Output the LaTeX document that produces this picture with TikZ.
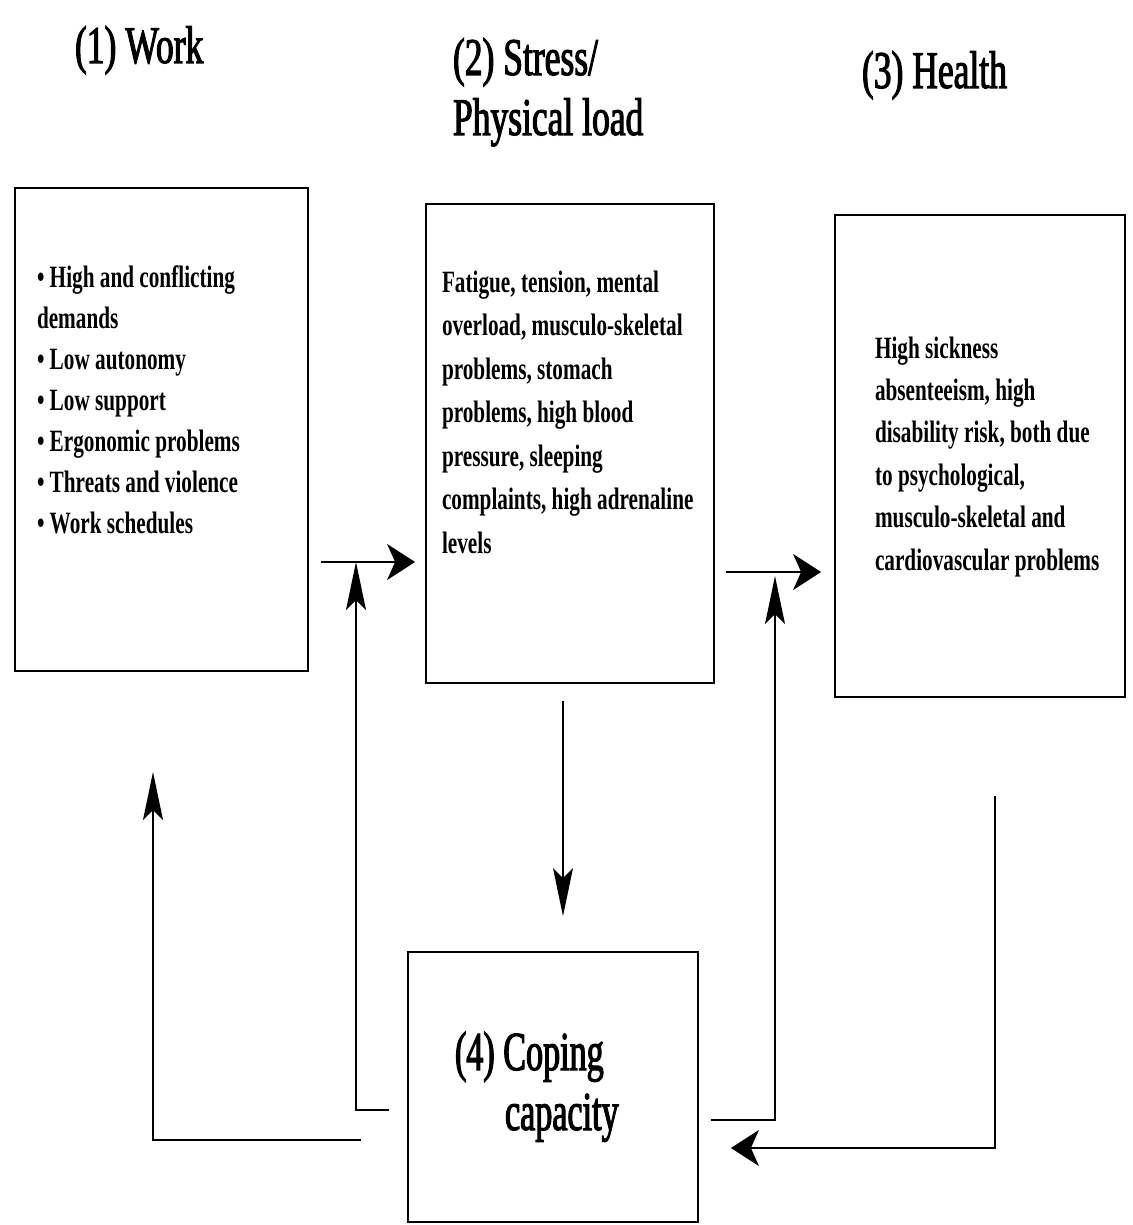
\documentclass[tikz,border=0pt]{standalone}
\usepackage{fontspec}
\setmainfont{Liberation Serif}
\newfontfamily\headfont[FakeStretch=0.67,FakeBold=2]{Liberation Serif}
\newfontfamily\bodyfont[FakeStretch=0.685]{Liberation Serif Bold}
\newfontfamily\copefont[FakeStretch=0.62,FakeBold=2]{Liberation Serif}
\usetikzlibrary{arrows.meta}
\begin{document}
\begin{tikzpicture}[x=1pt,y=-1pt,
  box/.style={draw, line width=1.8pt, inner sep=0pt},
  txt/.style={anchor=base west, inner sep=0pt, outer sep=0pt},
  headtxt/.style={txt, font=\headfont\fontsize{53}{60}\selectfont},
  bodytxt/.style={txt, font=\bodyfont\fontsize{31}{41}\selectfont},
  conn/.style={line width=1.5pt},
  harrow/.style={conn, -{Stealth[length=28pt,width=36pt,inset=8pt]}},
  varrow/.style={conn, -{Stealth[length=48pt,width=20pt,inset=10pt]}},
]
\useasboundingbox (0,0) rectangle (1132,1225);

% headings
\node[headtxt] (h1) at (75,63) {(1) Work};
\node[headtxt] (h2) at (453,75) {\vtop{\hbox{(2) Stress/}\hbox{Physical load}}};
\node[headtxt] (h3) at (862,88) {(3) Health};

% boxes
\node[box, minimum width=293, minimum height=483] (b1) at (161.5,429.5) {};
\node[box, minimum width=288, minimum height=479] (b2) at (570,443.5) {};
\node[box, minimum width=290, minimum height=482] (b3) at (980,456) {};
\node[box, minimum width=290, minimum height=270] (b4) at (553,1087) {};

% box texts
\node[bodytxt] (t1) at (37,287) {\vtop{\baselineskip=41pt
  \hbox{• High and conflicting}\hbox{demands}\hbox{• Low autonomy}\hbox{• Low support}%
  \hbox{• Ergonomic problems}\hbox{• Threats and violence}\hbox{• Work schedules}}};
\node[bodytxt] (t2) at (442,292) {\vtop{\baselineskip=43.5pt
  \hbox{Fatigue, tension, mental}\hbox{overload, musculo-skeletal}\hbox{problems, stomach}%
  \hbox{problems, high blood}\hbox{pressure, sleeping}\hbox{complaints, high adrenaline}\hbox{levels}}};
\node[bodytxt] (t3) at (875,358) {\vtop{\baselineskip=42.4pt
  \hbox{High sickness}\hbox{absenteeism, high}\hbox{disability risk, both due}%
  \hbox{to psychological,}\hbox{musculo-skeletal and}\hbox{cardiovascular problems}}};
\node[txt, font=\copefont\fontsize{55}{60}\selectfont] (t4) at (455,1070)
  {\vtop{\baselineskip=60pt\hbox{(4) Coping}\hbox{\kern50pt capacity}}};

% helper coordinates
\coordinate (y1) at (0,562);
\coordinate (y2) at (0,572);
\coordinate (jA) at (356,562);
\coordinate (jB) at (775,576);
\coordinate (yA) at (0,1110);
\coordinate (yB) at (0,1140);
\coordinate (yC) at (0,1120);
\coordinate (yD) at (0,1148);
\coordinate (aW) at (153,772);
\coordinate (xc) at (995,0);
\coordinate (xd) at (563,0);

% connectors
\draw[harrow, shorten <=12pt, shorten >=10pt] (b1.east |- y1) -- (b2.west |- y1);
\draw[harrow, shorten <=11pt, shorten >=13pt] (b2.east |- y2) -- (b3.west |- y2);
\draw[varrow, shorten <=17pt, shorten >=35pt] (b2.south -| xd) -- (b4.north -| xd);
\draw[varrow, shorten <=18pt] (b4.west |- yA) -| (jA);
\draw[varrow, shorten <=46pt] (b4.west |- yB) -| (aW);
\draw[varrow, shorten <=12pt] (b4.east |- yC) -| (jB);
\draw[harrow, shorten <=98pt, shorten >=32pt] (b3.south -| xc) |- (b4.east |- yD);
\end{tikzpicture}
\end{document}
